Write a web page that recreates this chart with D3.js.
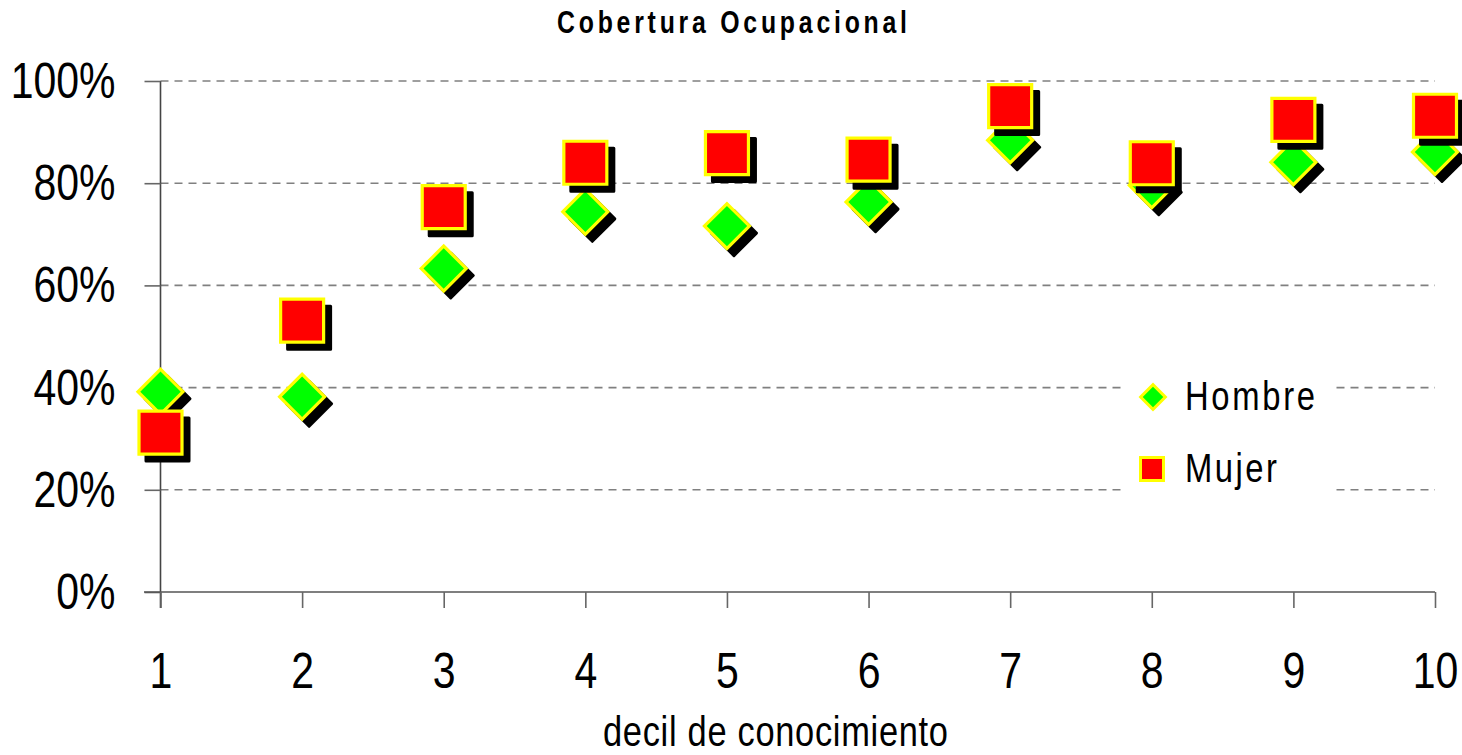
<!DOCTYPE html>
<html>
<head>
<meta charset="utf-8">
<script src="https://cdn.jsdelivr.net/npm/d3@7"></script>
<style>
  html, body { margin: 0; padding: 0; background: #fff; }
  svg { display: block; }
</style>
</head>
<body>
<svg id="chart" width="1462" height="755"></svg>
<script>
const deciles = [1, 2, 3, 4, 5, 6, 7, 8, 9, 10];
const hombre = [0.392, 0.382, 0.633, 0.744, 0.716, 0.763, 0.884, 0.796, 0.841, 0.861];
const mujer  = [0.312, 0.531, 0.753, 0.840, 0.859, 0.846, 0.951, 0.839, 0.924, 0.932];
const yTicks = [0, 0.2, 0.4, 0.6, 0.8, 1.0];
const seriesNames = ["Hombre", "Mujer"];
const titleText = "Cobertura Ocupacional";
const xTitleText = "decil de conocimiento";

const svg = d3.select("#chart");
const FONT = '"Liberation Sans", Arial, sans-serif';
const SX = 0.82; // horizontal squeeze to imitate a narrow face

const x = d3.scaleLinear().domain([1, 10]).range([160.5, 1435]);
const y = d3.scaleLinear().domain([0, 1]).range([592, 81]);

// gridlines
svg.append("g").selectAll("line").data(yTicks.filter(d => d > 0)).join("line")
  .attr("x1", 160.5).attr("x2", 1435)
  .attr("y1", d => y(d)).attr("y2", d => y(d))
  .attr("stroke", "#808080").attr("stroke-width", 1.6)
  .attr("stroke-dasharray", "8,6");

// y axis
const yAxis = svg.append("g").attr("transform", "translate(160.5,0)")
  .call(d3.axisLeft(y).tickValues(yTicks).tickSize(16).tickPadding(29)
    .tickFormat(d3.format(".0%")));
yAxis.select(".domain").attr("stroke", "#444").attr("stroke-width", 1.6)
  .attr("d", `M0,${y(1)}V608`);
yAxis.selectAll(".tick line").attr("stroke", "#666").attr("stroke-width", 1.6);
yAxis.selectAll(".tick text").attr("font-family", FONT).attr("font-size", 50)
  .attr("fill", "#000").attr("dy", "0.33em")
  .attr("x", -45 / SX).attr("transform", `scale(${SX},1)`);

// x axis
const xAxis = svg.append("g").attr("transform", "translate(0,592)")
  .call(d3.axisBottom(x).tickValues(deciles).tickSize(16).tickFormat(d3.format("d")));
xAxis.select(".domain").attr("stroke", "#555").attr("stroke-width", 1.6)
  .attr("d", `M144,0H1435`);
xAxis.selectAll(".tick line").attr("stroke", "#666").attr("stroke-width", 1.6);
xAxis.selectAll(".tick text").attr("font-family", FONT).attr("font-size", 50)
  .attr("fill", "#000").attr("y", 96).attr("dy", 0)
  .attr("transform", `scale(${SX},1)`);

// legend background
svg.append("rect").attr("x", 1125).attr("y", 360).attr("width", 207).attr("height", 140)
  .attr("fill", "#fff");

const squareSym = d3.symbol().type(d3.symbolSquare).size(43 * 43);
const diamondSym = d3.symbol().type(d3.symbolSquare).size(31.8 * 31.8);

function drawSeries(values, sym, rot) {
  const g = svg.append("g");
  const pts = deciles.map((d, i) => ({ x: x(d), y: y(values[i]) }));
  pts.forEach(p => {
    g.append("path").attr("d", sym())
      .attr("transform", `translate(${p.x + 7},${p.y + 7}) rotate(${rot})`)
      .attr("fill", "#000").attr("stroke", "#000").attr("stroke-width", 3)
      .attr("stroke-linejoin", "round");
    g.append("path").attr("d", sym())
      .attr("transform", `translate(${p.x},${p.y}) rotate(${rot})`)
      .attr("fill", rot ? "#00ff00" : "#ff0000").attr("stroke", "#ffff00").attr("stroke-width", 3.2);
  });
}
drawSeries(hombre, diamondSym, 45);
drawSeries(mujer, squareSym, 0);

function narrowText(px, py, txt, size, len, weight, sx) {
  const s = sx || SX;
  const t = svg.append("text")
    .attr("transform", `scale(${s},1)`)
    .attr("x", px / s).attr("y", py).text(txt)
    .attr("font-family", FONT).attr("font-size", size).attr("fill", "#000");
  if (weight) t.attr("font-weight", weight);
  if (len) t.attr("textLength", len / s).attr("lengthAdjust", "spacing");
  return t;
}

// legend
svg.append("path").attr("d", d3.symbol().type(d3.symbolSquare).size(17.5 * 17.5)())
  .attr("transform", "translate(1153,397) rotate(45)")
  .attr("fill", "#00ff00").attr("stroke", "#ffff00").attr("stroke-width", 3);
svg.append("path").attr("d", d3.symbol().type(d3.symbolSquare).size(23 * 23)())
  .attr("transform", "translate(1152,469)")
  .attr("fill", "#ff0000").attr("stroke", "#ffff00").attr("stroke-width", 3);
narrowText(1185, 410, seriesNames[0], 40, 130);
narrowText(1185, 482, seriesNames[1], 40, 92);

// title
narrowText(557, 33, titleText, 31, 350, "bold", 0.8);

// x title
narrowText(603, 746, xTitleText, 42, 345);
</script>
</body>
</html>
